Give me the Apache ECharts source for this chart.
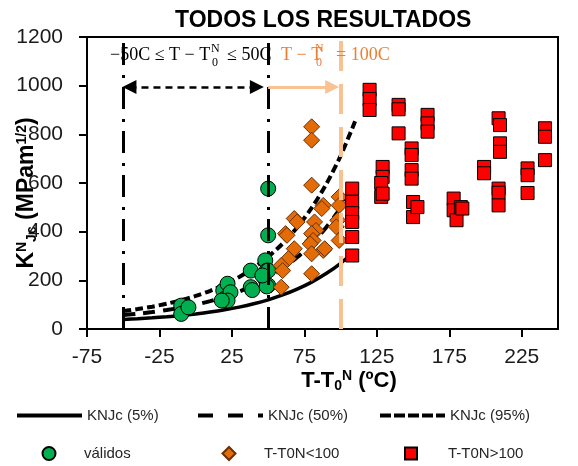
<!DOCTYPE html>
<html>
<head>
<meta charset="utf-8">
<script src="https://cdn.jsdelivr.net/npm/echarts@6/dist/echarts.min.js"></script>
<style>html,body{margin:0;padding:0;background:#fff}#c{width:578px;height:466px}</style>
</head>
<body>
<div id="c"></div>
<script>
// ---- data ----
const titleText = 'TODOS LOS RESULTADOS';
const xTickValues = [-75, -25, 25, 75, 125, 175, 225];
const curveT = [-50, -40, -30, -20, -10, 0, 10, 20, 30, 40, 50, 60, 70, 80, 90, 100, 110];
const k5  = [39.4, 42.4, 46.0, 50.3, 55.5, 61.9, 69.5, 78.8, 90.0, 103.6, 120.0, 139.8, 163.8, 192.8, 227.8, 270.2, 321.5];
const k50 = [57.1, 62.7, 69.6, 77.9, 87.9, 100.0, 114.6, 132.4, 153.8, 179.7, 211.0, 248.9, 294.7, 350.1, 417.0, 498.0, 595.9];
const k95 = [73.6, 81.8, 91.8, 103.8, 118.2, 135.8, 157.0, 182.6, 213.6, 251.1, 296.4, 351.2, 417.5, 497.6, 594.6, 711.8, 853.5];
const validos = [[-10,96],[-10,62],[-5,89],[19,158],[20,124],[22,186],[24,151],[22,117],[18,117],
  [38,240],[38,172],[39,160],[48,282],[49,240],[50,240],[50,179],[49,175],[46,220],[50,577],[50,385]];
const menos100 = [[80,831],[80,776],[80,591],[88,508],[87,495],[99,543],[99,508],[98,447],[99,364],[68,454],[70,440],
  [62,392],[63,385],[68,330],[82,440],[83,405],[80,392],[81,364],[79,350],[88,323],[89,330],[80,309],[64,289],
  [59,261],[60,240],[80,227],[59,172],[97,420]];
const mas100 = [[120,983],[120,945],[120,900],[140,921],[140,903],[140,804],[160,880],[160,845],[160,811],
  [149,742],[149,715],[149,653],[149,618],[129,666],[129,625],[128,600],[128,543],[129,556],
  [108,577],[108,522],[108,476],[108,440],[108,378],[108,302],[150,522],[150,460],[153,501],
  [178,536],[178,488],[180,447],[183,501],[184,495],[199,666],[199,640],[209,866],[210,838],[210,763],[210,728],
  [209,577],[209,560],[209,508],[229,660],[229,632],[229,559],[241,825],[241,790],[241,694]];
const vLinesBlack = [-50, 50];
const vLineOrange = 100;
const arrowY = 995;
const blackArrow = [-45.7, 42.2];
const orangeArrow = [50, 94.2];
const names = ['KNJc (5%)', 'KNJc (50%)', 'KNJc (95%)', 'válidos', 'T-T0N<100', 'T-T0N>100'];

// ---- chart ----
const F = 'Liberation Sans, Arial, sans-serif';
const SERIF = 'Liberation Serif, Times New Roman, serif';
const zip = (xs, ys) => xs.map((x, i) => [x, ys[i]]);
const chart = echarts.init(document.getElementById('c'), null, {renderer: 'canvas'});

function lgLine(name, left, top, dash) {
  return {show: true, data: [name], left: left, top: top, itemWidth: 65, itemHeight: 14, padding: 0, itemGap: 0,
    itemStyle: {opacity: 0}, lineStyle: {width: 4, color: '#000', type: dash},
    textStyle: {fontFamily: F, fontSize: 15, color: '#262626'}, selectedMode: false};
}
function lgMark(name, icon, center, top, size, textLeft) {
  return {show: true, data: [{name: name, icon: icon}], left: center - size / 2, top: top, itemWidth: size, itemHeight: size,
    padding: 0, itemGap: 0, selectedMode: false,
    textStyle: {fontFamily: F, fontSize: 15, color: '#262626', padding: [0, 0, 0, textLeft - (center + size / 2) - 5]}};
}
const orangeC = '#F9C293';
const option = {
  animation: false,
  backgroundColor: '#fff',
  title: {text: titleText, left: 170, top: 4, textStyle: {fontFamily: F, fontWeight: 'bold', fontSize: 23, color: '#000'}},
  grid: {left: 87, right: 20, top: 37, bottom: 137, outerBoundsMode: 'none', containLabel: false,
    show: true, borderColor: '#000', borderWidth: 2, backgroundColor: 'transparent'},
  legend: [
    lgLine(names[0], 15, 408, 'solid'), lgLine(names[1], 196, 408, [15, 15]), lgLine(names[2], 378, 408, [11, 3]),
    lgMark(names[3], 'circle', 48, 446, 13, 83), lgMark(names[4], 'diamond', 228, 446, 13, 263), lgMark(names[5], 'rect', 410, 446, 12, 447)
  ],
  xAxis: {
    type: 'value', min: -75, max: 250,
    axisLine: {show: true, onZero: false, lineStyle: {color: '#000', width: 2}},
    axisTick: {show: true, length: 8, customValues: xTickValues, lineStyle: {color: '#000', width: 2}},
    axisLabel: {customValues: xTickValues, fontFamily: F, fontSize: 21, color: '#1a1a1a', margin: 18},
    splitLine: {show: false},
    name: '{m|T-T}{sub|0}{sup|N}{m| (ºC)}', nameLocation: 'middle', nameGap: 40, nameMoveOverlap: false,
    nameTextStyle: {padding: [0, 0, 0, 53], rich: {
      m: {fontFamily: F, fontWeight: 'bold', fontSize: 22, color: '#000'},
      sub: {fontFamily: F, fontWeight: 'bold', fontSize: 14, color: '#000', verticalAlign: 'bottom', padding: [10, 0, 0, 0]},
      sup: {fontFamily: F, fontWeight: 'bold', fontSize: 14, color: '#000', verticalAlign: 'top', padding: [0, 0, 8, 0]}
    }}
  },
  yAxis: {
    type: 'value', min: 0, max: 1200, interval: 200,
    axisLine: {show: true, onZero: false, lineStyle: {color: '#000', width: 2}},
    axisTick: {show: true, length: 8, lineStyle: {color: '#000', width: 2}},
    axisLabel: {fontFamily: F, fontSize: 21, color: '#1a1a1a', margin: 24, formatter: v => String(v)},
    splitLine: {show: false},
    name: '{m|K}{sup|N}{sub|Jc}{m| (MPam}{sup|1/2}{m|)}', nameLocation: 'middle', nameGap: 48, nameRotate: 90, nameMoveOverlap: false,
    nameTextStyle: {padding: [0, 20, 0, 0], rich: {
      m: {fontFamily: F, fontWeight: 'bold', fontSize: 23, color: '#000'},
      sub: {fontFamily: F, fontWeight: 'bold', fontSize: 14, color: '#000', verticalAlign: 'bottom', padding: [10, 0, 0, 0]},
      sup: {fontFamily: F, fontWeight: 'bold', fontSize: 14, color: '#000', verticalAlign: 'top', padding: [0, 0, 8, 0]}
    }}
  },
  series: [
    {name: names[0], type: 'line', data: zip(curveT, k5), symbol: 'none', showSymbol: false, smooth: 0.3, z: 2,
      lineStyle: {color: '#000', width: 3.5}, itemStyle: {color: '#000'}},
    {name: names[1], type: 'line', data: zip(curveT, k50), symbol: 'none', showSymbol: false, smooth: 0.3, z: 2,
      lineStyle: {color: '#000', width: 4, type: [12, 8]}, itemStyle: {color: '#000'}},
    {name: names[2], type: 'line', data: zip(curveT, k95), symbol: 'none', showSymbol: false, smooth: 0.3, z: 2,
      lineStyle: {color: '#000', width: 4, type: [8, 4]}, itemStyle: {color: '#000'}},
    {name: names[3], type: 'scatter', data: validos, symbol: 'circle', symbolSize: 15, z: 3,
      itemStyle: {color: '#00B050', borderColor: '#000', borderWidth: 1, opacity: 1}},
    {name: names[4], type: 'scatter', data: menos100, symbol: 'diamond', symbolSize: 16, z: 3,
      itemStyle: {color: '#E36C09', borderColor: '#6b3000', borderWidth: 1, opacity: 1}},
    {name: names[5], type: 'scatter', data: mas100, symbol: 'rect', symbolSize: 13, z: 3,
      itemStyle: {color: '#FF0000', borderColor: '#000', borderWidth: 1, opacity: 1}},
    {type: 'line', data: [], z: 5, silent: true,
      markLine: {silent: true, symbol: 'none', animation: false, label: {show: false},
        lineStyle: {color: '#000', width: 3, type: [22, 9, 3, 10]},
        data: vLinesBlack.map(v => ({xAxis: v}))}},
    {type: 'line', data: [], z: 5, silent: true,
      markLine: {silent: true, symbol: 'none', animation: false, label: {show: false},
        lineStyle: {color: orangeC, width: 4, type: [30, 13]},
        data: [{xAxis: vLineOrange}]}},
    {type: 'line', data: [], z: 6, silent: true,
      markLine: {silent: true, symbol: ['triangle', 'triangle'], symbolSize: 14, animation: false, label: {show: false},
        lineStyle: {color: '#000', width: 2.5, type: [7, 5]}, itemStyle: {color: '#000'},
        data: [[{coord: [blackArrow[0], arrowY]}, {coord: [blackArrow[1], arrowY]}]]}},
    {type: 'line', data: [], z: 6, silent: true,
      markLine: {silent: true, symbol: ['none', 'triangle'], symbolSize: 14, animation: false, label: {show: false},
        lineStyle: {color: orangeC, width: 3, type: 'solid'}, itemStyle: {color: orangeC},
        data: [[{coord: [orangeArrow[0], arrowY]}, {coord: [orangeArrow[1], arrowY]}]]}}
  ],
  graphic: [
    {type: 'text', x: 110, y: 55, z: 10, style: {text: '−50C ≤ T − T', font: '18px ' + SERIF, fill: '#000', align: 'left', verticalAlign: 'middle'}},
    {type: 'text', x: 211, y: 49, z: 10, style: {text: 'N', font: '12px ' + SERIF, fill: '#000', align: 'left', verticalAlign: 'middle'}},
    {type: 'text', x: 212, y: 63, z: 10, style: {text: '0', font: '12px ' + SERIF, fill: '#000', align: 'left', verticalAlign: 'middle'}},
    {type: 'text', x: 227, y: 55, z: 10, style: {text: '≤ 50C', font: '18px ' + SERIF, fill: '#000', align: 'left', verticalAlign: 'middle'}},
    {type: 'text', x: 281, y: 55, z: 10, style: {text: 'T − T', font: '18px ' + SERIF, fill: '#ED7D31', align: 'left', verticalAlign: 'middle'}},
    {type: 'text', x: 315, y: 49, z: 10, style: {text: 'N', font: '12px ' + SERIF, fill: '#ED7D31', align: 'left', verticalAlign: 'middle'}},
    {type: 'text', x: 316, y: 63, z: 10, style: {text: '0', font: '12px ' + SERIF, fill: '#ED7D31', align: 'left', verticalAlign: 'middle'}},
    {type: 'text', x: 336, y: 55, z: 10, style: {text: '= 100C', font: '18px ' + SERIF, fill: '#ED7D31', align: 'left', verticalAlign: 'middle'}}
  ]
};
chart.setOption(option);
</script>
</body>
</html>
